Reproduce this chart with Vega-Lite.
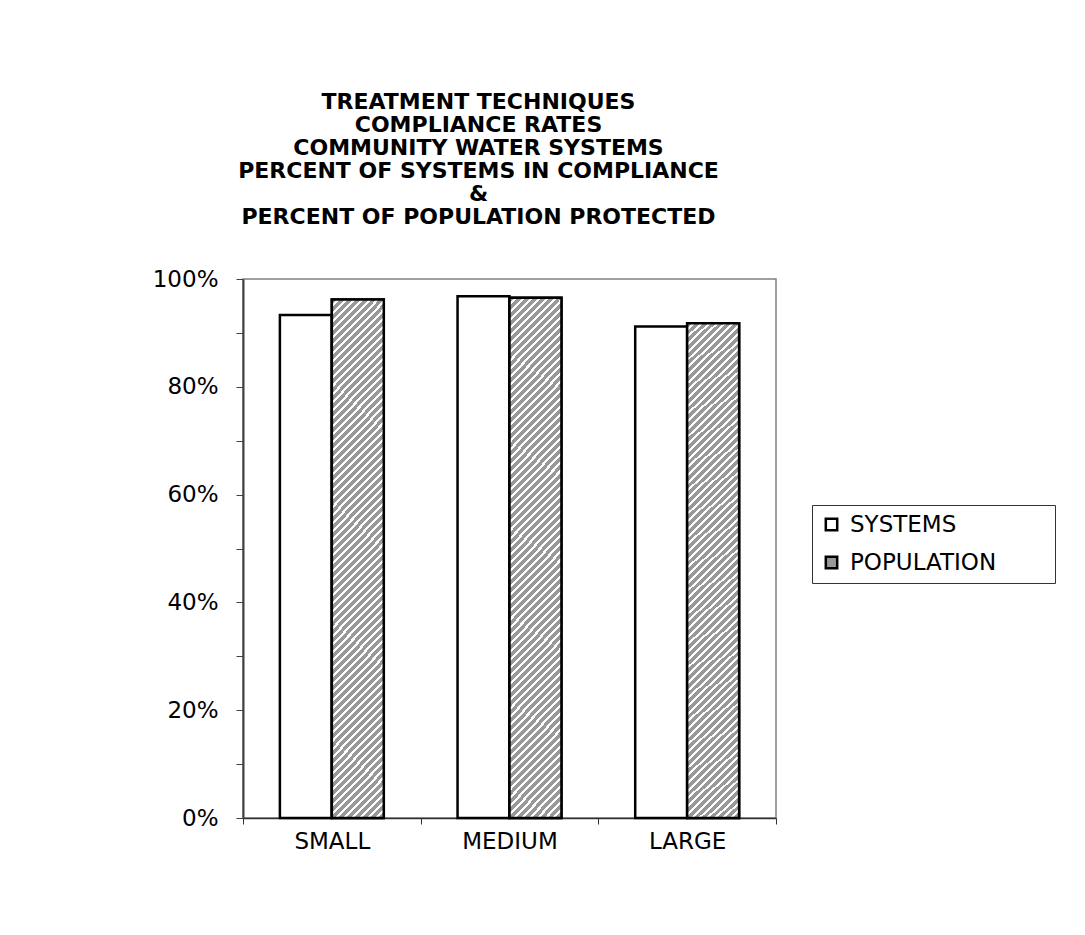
{
  "$schema": "https://vega.github.io/schema/vega-lite/v6.json",
  "width": 533,
  "height": 539,
  "autosize": {"type": "none"},
  "padding": {"left": 243, "top": 279, "right": 309, "bottom": 117},
  "background": "white",
  "title": {
    "text": ["TREATMENT TECHNIQUES", "COMPLIANCE RATES", "COMMUNITY WATER SYSTEMS", "PERCENT OF SYSTEMS IN COMPLIANCE", "&", "PERCENT OF POPULATION PROTECTED"],
    "font": "DejaVu Sans",
    "fontSize": 22,
    "fontWeight": "bold",
    "lineHeight": 23,
    "offset": 39,
    "dx": -31,
    "anchor": "middle",
    "frame": "group",
    "color": "black"
  },
  "data": {
    "values": [
      {"size": "SMALL", "measure": "SYSTEMS", "value": 0.933},
      {"size": "SMALL", "measure": "POPULATION", "value": 0.962},
      {"size": "MEDIUM", "measure": "SYSTEMS", "value": 0.968},
      {"size": "MEDIUM", "measure": "POPULATION", "value": 0.965},
      {"size": "LARGE", "measure": "SYSTEMS", "value": 0.912},
      {"size": "LARGE", "measure": "POPULATION", "value": 0.918}
    ]
  },
  "encoding": {
    "x": {
      "field": "size",
      "type": "nominal",
      "sort": ["SMALL", "MEDIUM", "LARGE"],
      "scale": {"paddingInner": 0, "paddingOuter": 0},
      "axis": {
        "title": null,
        "labelAngle": 0,
        "tickBand": "extent",
        "tickSize": 6,
        "tickColor": "#333333",
        "domainColor": "#333333",
        "domainWidth": 1.5,
        "labelPadding": 6,
        "labelFontSize": 23
      }
    },
    "xOffset": {
      "field": "measure",
      "sort": ["SYSTEMS", "POPULATION"],
      "scale": {"paddingInner": 0, "paddingOuter": 0.71}
    },
    "y": {
      "field": "value",
      "type": "quantitative",
      "scale": {"domain": [0, 1]},
      "axis": {
        "title": null,
        "format": "0%",
        "values": [0, 0.1, 0.2, 0.3, 0.4, 0.5, 0.6, 0.7, 0.8, 0.9, 1],
        "labelExpr": "round(datum.value*100) % 20 === 0 ? datum.label : ''",
        "tickSize": 7,
        "tickColor": "#404040",
        "domainColor": "#404040",
        "domainWidth": 2,
        "labelPadding": 18,
        "labelFontSize": 23,
        "grid": false
      }
    }
  },
  "layer": [
    {
      "mark": {"type": "bar", "stroke": "black", "strokeWidth": 2.5},
      "encoding": {
        "fill": {
          "field": "measure",
          "type": "nominal",
          "sort": ["SYSTEMS", "POPULATION"],
          "scale": {"domain": ["SYSTEMS", "POPULATION"], "range": ["white", "#999999"]},
          "legend": {
            "title": null,
            "orient": "none",
            "legendX": 569,
            "legendY": 226,
            "strokeColor": "#333333",
            "fillColor": "white",
            "padding": 8,
            "rowPadding": 14,
            "labelFontSize": 23,
            "labelOffset": 7,
            "labelLimit": 400,
            "symbolType": "square",
            "symbolSize": 130,
            "symbolStrokeColor": "black",
            "symbolStrokeWidth": 2.5,
            "labelExpr": "datum.label + '\u2800\u2800\u2800'"
          }
        }
      }
    },
    {
      "transform": [{"filter": "datum.measure === 'POPULATION'"}],
      "mark": {
        "type": "bar",
        "stroke": "black",
        "strokeWidth": 2.5,
        "fill": {
          "gradient": "linear",
          "x1": 0, "y1": 0, "x2": 0.112, "y2": 1.1,
          "stops": [
            {"offset":0,"color":"#999"},{"offset":0.0087,"color":"#999"},{"offset":0.0087,"color":"#fff"},{"offset":0.014,"color":"#fff"},
            {"offset":0.014,"color":"#999"},{"offset":0.0227,"color":"#999"},{"offset":0.0227,"color":"#fff"},{"offset":0.028,"color":"#fff"},
            {"offset":0.028,"color":"#999"},{"offset":0.0367,"color":"#999"},{"offset":0.0367,"color":"#fff"},{"offset":0.042,"color":"#fff"},
            {"offset":0.042,"color":"#999"},{"offset":0.0507,"color":"#999"},{"offset":0.0507,"color":"#fff"},{"offset":0.056,"color":"#fff"},
            {"offset":0.056,"color":"#999"},{"offset":0.0647,"color":"#999"},{"offset":0.0647,"color":"#fff"},{"offset":0.07,"color":"#fff"},
            {"offset":0.07,"color":"#999"},{"offset":0.0787,"color":"#999"},{"offset":0.0787,"color":"#fff"},{"offset":0.084,"color":"#fff"},
            {"offset":0.084,"color":"#999"},{"offset":0.0927,"color":"#999"},{"offset":0.0927,"color":"#fff"},{"offset":0.098,"color":"#fff"},
            {"offset":0.098,"color":"#999"},{"offset":0.1067,"color":"#999"},{"offset":0.1067,"color":"#fff"},{"offset":0.112,"color":"#fff"},
            {"offset":0.112,"color":"#999"},{"offset":0.1207,"color":"#999"},{"offset":0.1207,"color":"#fff"},{"offset":0.126,"color":"#fff"},
            {"offset":0.126,"color":"#999"},{"offset":0.1347,"color":"#999"},{"offset":0.1347,"color":"#fff"},{"offset":0.14,"color":"#fff"},
            {"offset":0.14,"color":"#999"},{"offset":0.1487,"color":"#999"},{"offset":0.1487,"color":"#fff"},{"offset":0.154,"color":"#fff"},
            {"offset":0.154,"color":"#999"},{"offset":0.1627,"color":"#999"},{"offset":0.1627,"color":"#fff"},{"offset":0.168,"color":"#fff"},
            {"offset":0.168,"color":"#999"},{"offset":0.1767,"color":"#999"},{"offset":0.1767,"color":"#fff"},{"offset":0.182,"color":"#fff"},
            {"offset":0.182,"color":"#999"},{"offset":0.1907,"color":"#999"},{"offset":0.1907,"color":"#fff"},{"offset":0.196,"color":"#fff"},
            {"offset":0.196,"color":"#999"},{"offset":0.2047,"color":"#999"},{"offset":0.2047,"color":"#fff"},{"offset":0.21,"color":"#fff"},
            {"offset":0.21,"color":"#999"},{"offset":0.2187,"color":"#999"},{"offset":0.2187,"color":"#fff"},{"offset":0.224,"color":"#fff"},
            {"offset":0.224,"color":"#999"},{"offset":0.2327,"color":"#999"},{"offset":0.2327,"color":"#fff"},{"offset":0.238,"color":"#fff"},
            {"offset":0.238,"color":"#999"},{"offset":0.2467,"color":"#999"},{"offset":0.2467,"color":"#fff"},{"offset":0.252,"color":"#fff"},
            {"offset":0.252,"color":"#999"},{"offset":0.2607,"color":"#999"},{"offset":0.2607,"color":"#fff"},{"offset":0.266,"color":"#fff"},
            {"offset":0.266,"color":"#999"},{"offset":0.2747,"color":"#999"},{"offset":0.2747,"color":"#fff"},{"offset":0.28,"color":"#fff"},
            {"offset":0.28,"color":"#999"},{"offset":0.2887,"color":"#999"},{"offset":0.2887,"color":"#fff"},{"offset":0.294,"color":"#fff"},
            {"offset":0.294,"color":"#999"},{"offset":0.3027,"color":"#999"},{"offset":0.3027,"color":"#fff"},{"offset":0.308,"color":"#fff"},
            {"offset":0.308,"color":"#999"},{"offset":0.3167,"color":"#999"},{"offset":0.3167,"color":"#fff"},{"offset":0.322,"color":"#fff"},
            {"offset":0.322,"color":"#999"},{"offset":0.3307,"color":"#999"},{"offset":0.3307,"color":"#fff"},{"offset":0.336,"color":"#fff"},
            {"offset":0.336,"color":"#999"},{"offset":0.3447,"color":"#999"},{"offset":0.3447,"color":"#fff"},{"offset":0.35,"color":"#fff"},
            {"offset":0.35,"color":"#999"},{"offset":0.3587,"color":"#999"},{"offset":0.3587,"color":"#fff"},{"offset":0.364,"color":"#fff"},
            {"offset":0.364,"color":"#999"},{"offset":0.3727,"color":"#999"},{"offset":0.3727,"color":"#fff"},{"offset":0.378,"color":"#fff"},
            {"offset":0.378,"color":"#999"},{"offset":0.3867,"color":"#999"},{"offset":0.3867,"color":"#fff"},{"offset":0.392,"color":"#fff"},
            {"offset":0.392,"color":"#999"},{"offset":0.4007,"color":"#999"},{"offset":0.4007,"color":"#fff"},{"offset":0.406,"color":"#fff"},
            {"offset":0.406,"color":"#999"},{"offset":0.4147,"color":"#999"},{"offset":0.4147,"color":"#fff"},{"offset":0.42,"color":"#fff"},
            {"offset":0.42,"color":"#999"},{"offset":0.4287,"color":"#999"},{"offset":0.4287,"color":"#fff"},{"offset":0.434,"color":"#fff"},
            {"offset":0.434,"color":"#999"},{"offset":0.4427,"color":"#999"},{"offset":0.4427,"color":"#fff"},{"offset":0.448,"color":"#fff"},
            {"offset":0.448,"color":"#999"},{"offset":0.4567,"color":"#999"},{"offset":0.4567,"color":"#fff"},{"offset":0.462,"color":"#fff"},
            {"offset":0.462,"color":"#999"},{"offset":0.4707,"color":"#999"},{"offset":0.4707,"color":"#fff"},{"offset":0.476,"color":"#fff"},
            {"offset":0.476,"color":"#999"},{"offset":0.4847,"color":"#999"},{"offset":0.4847,"color":"#fff"},{"offset":0.49,"color":"#fff"},
            {"offset":0.49,"color":"#999"},{"offset":0.4987,"color":"#999"},{"offset":0.4987,"color":"#fff"},{"offset":0.504,"color":"#fff"},
            {"offset":0.504,"color":"#999"},{"offset":0.5127,"color":"#999"},{"offset":0.5127,"color":"#fff"},{"offset":0.518,"color":"#fff"},
            {"offset":0.518,"color":"#999"},{"offset":0.5267,"color":"#999"},{"offset":0.5267,"color":"#fff"},{"offset":0.532,"color":"#fff"},
            {"offset":0.532,"color":"#999"},{"offset":0.5407,"color":"#999"},{"offset":0.5407,"color":"#fff"},{"offset":0.546,"color":"#fff"},
            {"offset":0.546,"color":"#999"},{"offset":0.5547,"color":"#999"},{"offset":0.5547,"color":"#fff"},{"offset":0.56,"color":"#fff"},
            {"offset":0.56,"color":"#999"},{"offset":0.5687,"color":"#999"},{"offset":0.5687,"color":"#fff"},{"offset":0.574,"color":"#fff"},
            {"offset":0.574,"color":"#999"},{"offset":0.5827,"color":"#999"},{"offset":0.5827,"color":"#fff"},{"offset":0.588,"color":"#fff"},
            {"offset":0.588,"color":"#999"},{"offset":0.5967,"color":"#999"},{"offset":0.5967,"color":"#fff"},{"offset":0.602,"color":"#fff"},
            {"offset":0.602,"color":"#999"},{"offset":0.6107,"color":"#999"},{"offset":0.6107,"color":"#fff"},{"offset":0.616,"color":"#fff"},
            {"offset":0.616,"color":"#999"},{"offset":0.6247,"color":"#999"},{"offset":0.6247,"color":"#fff"},{"offset":0.63,"color":"#fff"},
            {"offset":0.63,"color":"#999"},{"offset":0.6387,"color":"#999"},{"offset":0.6387,"color":"#fff"},{"offset":0.644,"color":"#fff"},
            {"offset":0.644,"color":"#999"},{"offset":0.6527,"color":"#999"},{"offset":0.6527,"color":"#fff"},{"offset":0.658,"color":"#fff"},
            {"offset":0.658,"color":"#999"},{"offset":0.6667,"color":"#999"},{"offset":0.6667,"color":"#fff"},{"offset":0.672,"color":"#fff"},
            {"offset":0.672,"color":"#999"},{"offset":0.6807,"color":"#999"},{"offset":0.6807,"color":"#fff"},{"offset":0.686,"color":"#fff"},
            {"offset":0.686,"color":"#999"},{"offset":0.6947,"color":"#999"},{"offset":0.6947,"color":"#fff"},{"offset":0.7,"color":"#fff"},
            {"offset":0.7,"color":"#999"},{"offset":0.7087,"color":"#999"},{"offset":0.7087,"color":"#fff"},{"offset":0.714,"color":"#fff"},
            {"offset":0.714,"color":"#999"},{"offset":0.7227,"color":"#999"},{"offset":0.7227,"color":"#fff"},{"offset":0.728,"color":"#fff"},
            {"offset":0.728,"color":"#999"},{"offset":0.7367,"color":"#999"},{"offset":0.7367,"color":"#fff"},{"offset":0.742,"color":"#fff"},
            {"offset":0.742,"color":"#999"},{"offset":0.7507,"color":"#999"},{"offset":0.7507,"color":"#fff"},{"offset":0.756,"color":"#fff"},
            {"offset":0.756,"color":"#999"},{"offset":0.7647,"color":"#999"},{"offset":0.7647,"color":"#fff"},{"offset":0.77,"color":"#fff"},
            {"offset":0.77,"color":"#999"},{"offset":0.7787,"color":"#999"},{"offset":0.7787,"color":"#fff"},{"offset":0.784,"color":"#fff"},
            {"offset":0.784,"color":"#999"},{"offset":0.7927,"color":"#999"},{"offset":0.7927,"color":"#fff"},{"offset":0.798,"color":"#fff"},
            {"offset":0.798,"color":"#999"},{"offset":0.8067,"color":"#999"},{"offset":0.8067,"color":"#fff"},{"offset":0.812,"color":"#fff"},
            {"offset":0.812,"color":"#999"},{"offset":0.8207,"color":"#999"},{"offset":0.8207,"color":"#fff"},{"offset":0.826,"color":"#fff"},
            {"offset":0.826,"color":"#999"},{"offset":0.8347,"color":"#999"},{"offset":0.8347,"color":"#fff"},{"offset":0.84,"color":"#fff"},
            {"offset":0.84,"color":"#999"},{"offset":0.8487,"color":"#999"},{"offset":0.8487,"color":"#fff"},{"offset":0.854,"color":"#fff"},
            {"offset":0.854,"color":"#999"},{"offset":0.8627,"color":"#999"},{"offset":0.8627,"color":"#fff"},{"offset":0.868,"color":"#fff"},
            {"offset":0.868,"color":"#999"},{"offset":0.8767,"color":"#999"},{"offset":0.8767,"color":"#fff"},{"offset":0.882,"color":"#fff"},
            {"offset":0.882,"color":"#999"},{"offset":0.8907,"color":"#999"},{"offset":0.8907,"color":"#fff"},{"offset":0.896,"color":"#fff"},
            {"offset":0.896,"color":"#999"},{"offset":0.9047,"color":"#999"},{"offset":0.9047,"color":"#fff"},{"offset":0.91,"color":"#fff"},
            {"offset":0.91,"color":"#999"},{"offset":0.9187,"color":"#999"},{"offset":0.9187,"color":"#fff"},{"offset":0.924,"color":"#fff"},
            {"offset":0.924,"color":"#999"},{"offset":0.9327,"color":"#999"},{"offset":0.9327,"color":"#fff"},{"offset":0.938,"color":"#fff"},
            {"offset":0.938,"color":"#999"},{"offset":0.9467,"color":"#999"},{"offset":0.9467,"color":"#fff"},{"offset":0.952,"color":"#fff"},
            {"offset":0.952,"color":"#999"},{"offset":0.9607,"color":"#999"},{"offset":0.9607,"color":"#fff"},{"offset":0.966,"color":"#fff"},
            {"offset":0.966,"color":"#999"},{"offset":0.9747,"color":"#999"},{"offset":0.9747,"color":"#fff"},{"offset":0.98,"color":"#fff"},
            {"offset":0.98,"color":"#999"},{"offset":0.9887,"color":"#999"},{"offset":0.9887,"color":"#fff"},{"offset":0.994,"color":"#fff"},
            {"offset":0.994,"color":"#999"},{"offset":1,"color":"#999"}
          ]
        }
      }
    }
  ],
  "config": {
    "view": {"stroke": "#808080", "strokeWidth": 1.5, "fill": "white"},
    "axis": {"labelFont": "DejaVu Sans", "labelColor": "black"},
    "legend": {"labelFont": "DejaVu Sans", "labelColor": "black"}
  }
}
